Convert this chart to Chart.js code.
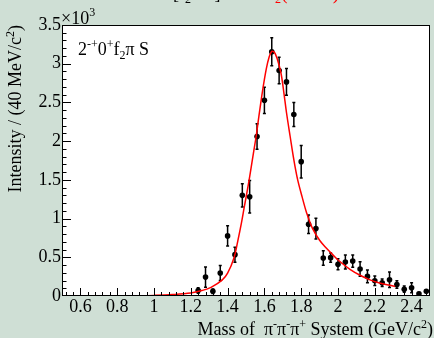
<!DOCTYPE html>
<html>
<head>
<meta charset="utf-8">
<title>2-+0+ f2 pi S intensity</title>
<script src="https://cdn.jsdelivr.net/npm/chart.js@4.4.1/dist/chart.umd.min.js"></script>
<style>
  html, body { margin: 0; padding: 0; background: #cfdfd5; }
  #wrap { width: 434px; height: 338px; }
</style>
</head>
<body>
<div id="wrap"><canvas id="chart" width="434" height="338"></canvas></div>
<script>
// Intensity of the 2-+0+ f2 pi S wave, 40 MeV bins, with the fitted curve.

const massBins = [1.24, 1.28, 1.32, 1.36, 1.40, 1.44, 1.48, 1.52, 1.56, 1.60, 1.64, 1.68, 1.72, 1.76, 1.80, 1.84,
  1.88, 1.92, 1.96, 2.00, 2.04, 2.08, 2.12, 2.16, 2.20, 2.24, 2.28, 2.32, 2.36, 2.40, 2.44, 2.48];
const intensity = [70, 244, 62, 296, 776, 534, 1300, 1281, 2060, 2527, 3154, 2912, 2765, 2345, 1735, 927,
  871, 490, 495, 409, 438, 451, 348, 253, 197, 171, 210, 149, 88, 106, 29, 62];
const intensityErr = [35, 130, 30, 97, 130, 97, 150, 210, 165, 170, 180, 170, 173, 155, 210, 120,
  134, 93, 60, 71, 90, 80, 93, 82, 60, 48, 100, 48, 40, 65, 15, 20];

// fit curve
const fitMass = [0.80, 0.90, 1.00, 1.10, 1.20, 1.26, 1.31, 1.37, 1.40, 1.435, 1.455, 1.475, 1.49, 1.515, 1.54,
  1.555, 1.57, 1.59, 1.61, 1.625, 1.64, 1.655, 1.67, 1.69, 1.705, 1.72, 1.74, 1.76, 1.78, 1.805, 1.83, 1.86,
  1.90, 1.94, 1.975, 2.01, 2.065, 2.12, 2.17, 2.225, 2.28, 2.31];
const fitIntensity = [0, 3, 8, 18, 38, 70, 112, 205, 295, 495, 705, 940, 1140, 1470, 1840,
  2060, 2320, 2650, 2930, 3080, 3160, 3145, 3060, 2880, 2640, 2370, 2060, 1760, 1510, 1280, 1070, 880,
  720, 610, 525, 445, 345, 268, 212, 168, 138, 124];

const xTicks = [0.6, 0.8, 1, 1.2, 1.4, 1.6, 1.8, 2, 2.2, 2.4];
const yTicks = [0, 500, 1000, 1500, 2000, 2500, 3000, 3500];

const SERIF = '"Liberation Serif", "DejaVu Serif", serif';
const font = (s) => s + 'px ' + SERIF;

// draw a run of text pieces; each piece may be raised (sup) or lowered (sub)
function drawRich(ctx, parts, x, y, align) {
  let w = 0;
  for (const p of parts) { ctx.font = font(p.s); w += ctx.measureText(p.t).width; }
  let cx = align === 'right' ? x - w : x;
  for (const p of parts) {
    ctx.font = font(p.s);
    ctx.fillStyle = p.c || '#000';
    ctx.fillText(p.t, cx, y + (p.dy || 0));
    cx += ctx.measureText(p.t).width;
  }
}

const plotBg = {
  id: 'plotBg',
  beforeDraw(chart) {
    const { ctx, chartArea: a } = chart;
    ctx.save();
    ctx.fillStyle = '#fff';
    ctx.fillRect(a.left, a.top, a.width, a.height);
    ctx.restore();
  },
};

const errorBars = {
  id: 'errorBars',
  beforeDatasetsDraw(chart) {
    const { ctx, scales: { x, y } } = chart;
    ctx.save();
    ctx.strokeStyle = '#000';
    ctx.lineWidth = 1.5;
    massBins.forEach((m, i) => {
      const px = x.getPixelForValue(m);
      const lo = y.getPixelForValue(Math.max(0, intensity[i] - intensityErr[i]));
      const hi = y.getPixelForValue(intensity[i] + intensityErr[i]);
      ctx.beginPath();
      ctx.moveTo(px, lo); ctx.lineTo(px, hi);
      ctx.moveTo(px - 1.5, lo); ctx.lineTo(px + 1.5, lo);
      ctx.moveTo(px - 1.5, hi); ctx.lineTo(px + 1.5, hi);
      ctx.stroke();
    });
    ctx.restore();
  },
};

const frameAndText = {
  id: 'frameAndText',
  afterDraw(chart) {
    const { ctx, chartArea: a, scales: { x, y } } = chart;
    ctx.save();
    ctx.strokeStyle = '#000';
    ctx.lineWidth = 1;
    ctx.strokeRect(a.left + 0.5, a.top + 0.5, a.width - 1, a.height - 1);

    // ROOT style ticks, pointing into the frame
    ctx.beginPath();
    for (let k = 13; k <= 62; k++) {
      const v = k * 0.04;
      const major = Math.abs(v / 0.2 - Math.round(v / 0.2)) < 1e-6;
      const px = Math.round(x.getPixelForValue(v)) + 0.5;
      ctx.moveTo(px, a.bottom);
      ctx.lineTo(px, a.bottom - (major ? 8 : 4));
    }
    for (let k = 1; k <= 34; k++) {
      const py = Math.round(y.getPixelForValue(k * 100)) + 0.5;
      ctx.moveTo(a.left, py);
      ctx.lineTo(a.left + (k % 5 === 0 ? 9 : 4.5), py);
    }
    ctx.stroke();

    ctx.textBaseline = 'alphabetic';
    // x10^3 exponent
    drawRich(ctx, [{ t: '\u00d710', s: 18 }, { t: '3', s: 12, dy: -8 }], a.left - 1, 24);

    // label inside the frame
    drawRich(ctx, [
      { t: '2', s: 18 }, { t: '-+', s: 12, dy: -7 },
      { t: '0', s: 18 }, { t: '+', s: 12, dy: -7 },
      { t: 'f', s: 18 }, { t: '2', s: 12, dy: 4 },
      { t: '\u03c0 S', s: 18 },
    ], 78, 55);

    // x title
    drawRich(ctx, [
      { t: 'Mass of  \u03c0', s: 18 }, { t: '-', s: 12, dy: -7 },
      { t: '\u03c0', s: 18 }, { t: '-', s: 12, dy: -7 },
      { t: '\u03c0', s: 18 }, { t: '+', s: 12, dy: -7 },
      { t: ' System (GeV/c', s: 18 }, { t: '2', s: 12, dy: -7 }, { t: ')', s: 18 },
    ], 433, 335, 'right');

    // y title, rotated
    ctx.save();
    ctx.translate(21, a.top);
    ctx.rotate(-Math.PI / 2);
    drawRich(ctx, [
      { t: 'Intensity / (40 MeV/c', s: 18 }, { t: '2', s: 12, dy: -7 }, { t: ')', s: 18 },
    ], 0, 0, 'right');
    ctx.restore();

    // title cut off by the top edge of the picture
    drawRich(ctx, [
      { t: '[f', s: 18 }, { t: '2', s: 12, dy: 4 }, { t: '\u03c0 S]', s: 18 },
    ], 173, -1);
    drawRich(ctx, [
      { t: '\u03c0', s: 18, c: '#f00' }, { t: '2', s: 12, dy: 4, c: '#f00' },
      { t: '(1670 )', s: 20, c: '#f00' },
    ], 266, -1);
    ctx.restore();
  },
};

const points = massBins.map((m, i) => ({ x: m, y: intensity[i] }));
const fit = fitMass.map((m, i) => ({ x: m, y: fitIntensity[i] }));

new Chart(document.getElementById('chart'), {
  type: 'scatter',
  data: {
    datasets: [
      {
        type: 'line',
        label: 'fit',
        data: fit,
        borderColor: '#ff0000',
        borderWidth: 1.5,
        pointRadius: 0,
        tension: 0.35,
        fill: false,
        order: 0,
      },
      {
        label: 'data',
        data: points,
        backgroundColor: '#000',
        borderColor: '#000',
        pointRadius: 2.8,
        pointBorderWidth: 0,
        order: 1,
      },
    ],
  },
  options: {
    responsive: false,
    animation: false,
    devicePixelRatio: 1,
    layout: { padding: { left: 0, right: 2, top: 25, bottom: 0 } },
    plugins: { legend: { display: false }, tooltip: { enabled: false } },
    scales: {
      x: {
        type: 'linear',
        min: 0.5,
        max: 2.5,
        grid: { display: false, drawTicks: false },
        border: { display: false },
        afterBuildTicks: (s) => { s.ticks = xTicks.map(v => ({ value: v })); },
        afterFit: (s) => { s.height = 42; },
        ticks: {
          padding: 0,
          color: '#000',
          font: { family: SERIF, size: 18 },
          maxRotation: 0,
          autoSkip: false,
          callback: (v) => String(+v.toFixed(1)),
        },
      },
      y: {
        type: 'linear',
        min: 0,
        max: 3500,
        grid: { display: false, drawTicks: false },
        border: { display: false },
        afterBuildTicks: (s) => { s.ticks = yTicks.map(v => ({ value: v })); },
        afterFit: (s) => { s.width = 62; },
        ticks: {
          padding: 1,
          color: '#000',
          font: { family: SERIF, size: 18 },
          callback: (v) => String(v / 1000),
        },
      },
    },
  },
  plugins: [plotBg, errorBars, frameAndText],
});
</script>
</body>
</html>
